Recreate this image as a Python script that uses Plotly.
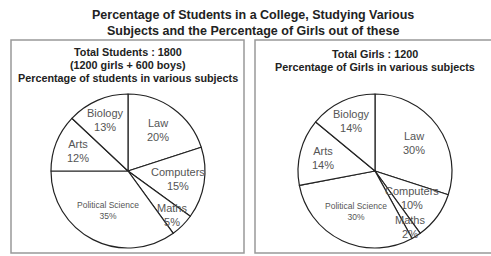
import math
import plotly.graph_objects as go

W, H = 491, 256

subjects = ["Law", "Computers", "Maths", "Political Science", "Arts", "Biology"]
students_pct = [20, 15, 5, 35, 12, 13]
girls_pct = [30, 10, 2, 30, 14, 14]

title_lines = ["Percentage of Students in a College, Studying Various",
               "Subjects and the Percentage of Girls out of these"]
left_heading = ["Total Students : 1800", "(1200 girls + 600 boys)",
                "Percentage of students in various subjects"]
right_heading = ["Total Girls : 1200", "Percentage of Girls in various subjects"]

FONT = "Liberation Sans, Arial, sans-serif"

# label placement style (fraction of radius) and font size per subject
label_frac_left = {"Law": 0.66, "Computers": 0.66, "Maths": 0.8,
                   "Political Science": 0.58, "Arts": 0.7, "Biology": 0.72}
label_frac_right = {"Law": 0.62, "Computers": 0.6, "Maths": 0.86,
                    "Political Science": 0.58, "Arts": 0.7, "Biology": 0.72}
label_size = {"Political Science": 8.5}


def px(x):
    return x / W


def py(y):
    return 1 - y / H


R = 77
PIE_CY = 171


def pie(values, cx):
    return go.Pie(
        labels=subjects, values=values,
        textinfo="none", hoverinfo="label+value",
        sort=False, direction="clockwise", rotation=0,
        marker=dict(colors=["white"] * len(values),
                    line=dict(color="#222", width=1.2)),
        domain=dict(x=[px(cx - R), px(cx + R)], y=[py(PIE_CY + R), py(PIE_CY - R)]),
        showlegend=False,
    )


def pie_labels(values, cx, fracs):
    out = []
    total = sum(values)
    start = 0.0
    for s, v in zip(subjects, values):
        span = 360.0 * v / total
        mid = math.radians(start + span / 2)
        start += span
        f = fracs[s]
        x = cx + f * R * math.sin(mid)
        y = PIE_CY - f * R * math.cos(mid)
        out.append(dict(text=f"{s}<br>{v}%", x=px(x), y=py(y),
                        xref="paper", yref="paper", showarrow=False,
                        xanchor="center", yanchor="middle",
                        font=dict(family=FONT, size=label_size.get(s, 11),
                                  color="#555")))
    return out


LEFT_CX, RIGHT_CX = 128, 375

fig = go.Figure()
fig.add_trace(pie(students_pct, LEFT_CX))
fig.add_trace(pie(girls_pct, RIGHT_CX))

ann = [dict(text="<b>" + "<br>".join(title_lines) + "</b>", x=px(253), y=py(22.5),
            xref="paper", yref="paper", showarrow=False,
            xanchor="center", yanchor="middle",
            font=dict(family=FONT, size=12.5, color="#222"))]
for i, t in enumerate(left_heading):
    ann.append(dict(text=f"<b>{t}</b>", x=px(128), y=py(51.5 + 13 * i),
                    xref="paper", yref="paper", showarrow=False,
                    xanchor="center", yanchor="middle",
                    font=dict(family=FONT, size=10.8, color="#222")))
for i, t in enumerate(right_heading):
    ann.append(dict(text=f"<b>{t}</b>", x=px(375), y=py(54 + 13 * i),
                    xref="paper", yref="paper", showarrow=False,
                    xanchor="center", yanchor="middle",
                    font=dict(family=FONT, size=10.8, color="#222")))
ann += pie_labels(students_pct, LEFT_CX, label_frac_left)
ann += pie_labels(girls_pct, RIGHT_CX, label_frac_right)

shapes = [
    dict(type="rect", xref="paper", yref="paper",
         x0=px(11), x1=px(244), y0=py(253), y1=py(40),
         line=dict(color="#999", width=1.5)),
    dict(type="rect", xref="paper", yref="paper",
         x0=px(255), x1=px(495), y0=py(253), y1=py(40),
         line=dict(color="#999", width=1.5)),
]

fig.update_layout(
    width=W, height=H,
    margin=dict(l=0, r=0, t=0, b=0),
    paper_bgcolor="white", plot_bgcolor="white",
    annotations=ann, shapes=shapes,
)

fig.write_html("out.html", config={"displayModeBar": False},
               post_script="document.body.style.margin='0';document.body.style.overflow='hidden';")
